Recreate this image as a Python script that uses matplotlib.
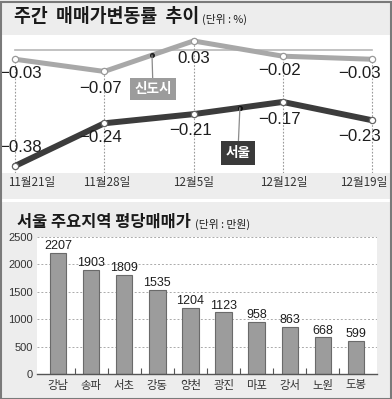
import numpy as np
import matplotlib
matplotlib.use("Agg")
import matplotlib.pyplot as plt
from matplotlib.patches import Rectangle
from matplotlib.ticker import FixedLocator

plt.rcParams['font.family'] = ['Noto Sans CJK KR', 'DejaVu Sans']

# ---------------- data ----------------
dates = ["11월21일", "11월28일", "12월5일", "12월12일", "12월19일"]
sindosi = [-0.03, -0.07, 0.03, -0.02, -0.03]
seoul = [-0.38, -0.24, -0.21, -0.17, -0.23]

regions = ["강남", "송파", "서초", "강동", "양천", "광진", "마포", "강서", "노원", "도봉"]
prices = [2207, 1903, 1809, 1535, 1204, 1123, 958, 863, 668, 599]
yticks = [0, 500, 1000, 1500, 2000, 2500]

W, H = 392, 399
fig = plt.figure(figsize=(W / 100, H / 100), dpi=100)
fig.patch.set_facecolor('#ededed')

def fbox(x0, y0, x1, y1):
    return [x0 / W, 1 - y1 / H, (x1 - x0) / W, (y1 - y0) / H]

NUMW = ['Liberation Sans', 'DejaVu Sans']

# ---------------- top chart ----------------
ax1 = fig.add_axes(fbox(1, 35, 391, 173))
ax1.set_facecolor('white')
for s in ax1.spines.values():
    s.set_visible(False)
ax1.set_xticks([])
ax1.set_yticks([])
x = np.arange(len(dates))
ax1.set_xlim(-0.157, 4.213)
ybot, ytop = -0.403, 0.0495
ax1.set_ylim(ybot, ytop)

ax1.plot([x[0], x[-1]], [0, 0], color='#b8b8b8', lw=1.2, zorder=1)
ax1.vlines(x, ybot, sindosi, colors='#9a9a9a', linestyles=(0, (1.5, 1.5)), lw=0.8, zorder=1)

ax1.plot(x, sindosi, color='#a8a8a8', lw=3.6, solid_capstyle='round', zorder=3,
         marker='o', mfc='white', mec='#999999', ms=4.5, mew=0.9)
ax1.plot(x, seoul, color='#3c3c3c', lw=4.3, solid_capstyle='round', zorder=3,
         marker='o', mfc='white', mec='#666666', ms=4.5, mew=0.9)

s_off = [(6, -14), (-4, -17), (0, -18), (-3, -14), (-12, -14)]
k_off = [(6, 18), (-4, -14), (-3, -16), (-3, -18), (-12, -16)]
for i in range(len(dates)):
    ax1.annotate(f"{sindosi[i]:.2f}".replace('-', '\u2212'), (x[i], sindosi[i]),
                 xytext=s_off[i], textcoords='offset pixels', ha='center', va='center',
                 fontsize=12.2, family=NUMW, color='#1e1e1e', zorder=5)
    ax1.annotate(f"{seoul[i]:.2f}".replace('-', '\u2212'), (x[i], seoul[i]),
                 xytext=k_off[i], textcoords='offset pixels', ha='center', va='center',
                 fontsize=12.2, family=NUMW, color='#1e1e1e', zorder=5)

# date labels
d_off = [(-7, 'left'), (2, 'center'), (0, 'center'), (1, 'center'), (15, 'right')]
for i, d in enumerate(dates):
    ax1.annotate(d, (x[i], ybot), xytext=(d_off[i][0], -10), textcoords='offset pixels',
                 ha=d_off[i][1], va='center', fontsize=8.4, color='#333333',
                 annotation_clip=False)

# series tags
xs = 1.535
ys = np.interp(xs, x, sindosi)
ax1.plot([xs], [ys], 'o', color='#222222', ms=2.6, zorder=4)
ax1.annotate("신도시", (xs, ys), xytext=(1, -34), textcoords='offset pixels',
             ha='center', va='center', fontsize=9.8, fontweight='bold', color='white',
             bbox=dict(boxstyle='square,pad=0.3', fc='#9c9c9c', ec='none'),
             arrowprops=dict(arrowstyle='-', color='#8a8a8a', lw=0.9, shrinkA=0, shrinkB=0),
             zorder=6)
xk = 2.52
yk = np.interp(xk, x, seoul)
ax1.plot([xk], [yk], 'o', color='#111111', ms=2.6, zorder=4)
ax1.annotate("서울", (xk, yk), xytext=(-2, -45), textcoords='offset pixels',
             ha='center', va='center', fontsize=9.8, fontweight='bold', color='white',
             bbox=dict(boxstyle='square,pad=0.35', fc='#3a3a3a', ec='none'),
             arrowprops=dict(arrowstyle='-', color='#8a8a8a', lw=0.9, shrinkA=0, shrinkB=0),
             zorder=6)

t1 = fig.text(14 / W, 1 - 17 / H, "주간  매매가변동률  추이", fontsize=13.2, fontweight='bold',
              color='#1a1a1a', ha='left', va='center')
fig.text(0, 0, "(단위 : %)", fontsize=7.8, color='#222222', ha='left', va='center')
fig.texts[-1].remove()
ax1.annotate("(단위 : %)", xy=(1, 0.5), xycoords=t1, xytext=(3, -2),
             textcoords='offset pixels', fontsize=7.8, color='#222222',
             ha='left', va='center', annotation_clip=False)

# separator between panels
fig.patches.append(Rectangle((0, 1 - 202 / H), 1, 3 / H, transform=fig.transFigure,
                             facecolor='white', edgecolor='none', zorder=0))

# ---------------- bottom chart ----------------
ax2 = fig.add_axes(fbox(37, 237, 377, 374))
ax2.set_facecolor('white')
xb = np.arange(len(regions))
bars = ax2.bar(xb, prices, width=0.5, color='#9c9c9c', edgecolor='#6a6a6a', lw=0.8, zorder=3)
ax2.set_xlim(-0.634, len(regions) - 1 + 0.634)
ax2.set_ylim(0, 2500)
ax2.set_yticks(yticks)
ax2.set_yticklabels([str(v) for v in yticks], family=NUMW, fontsize=8, color='#333333')
ax2.set_xticks(xb)
ax2.set_xticklabels(regions, fontsize=8.2, color='#333333')
ax2.tick_params(axis='both', which='major', length=0)
ax2.tick_params(axis='y', pad=3)
ax2.tick_params(axis='x', pad=4)
ax2.xaxis.set_minor_locator(FixedLocator(xb[:-1] + 0.5))
ax2.tick_params(axis='x', which='minor', direction='in', length=4.5, width=0.8, color='#555555')
for s in ['top', 'right', 'left']:
    ax2.spines[s].set_visible(False)
ax2.spines['bottom'].set_color('#555555')
ax2.spines['bottom'].set_linewidth(1.0)
ax2.spines['bottom'].set_zorder(5)
ax2.grid(axis='y', color='#aaaaaa', linestyle=(0, (2, 2)), lw=0.7, zorder=0)
ax2.bar_label(bars, labels=[str(v) for v in prices], padding=0.5, fontsize=9,
              family=NUMW, color='#1e1e1e')

t2 = fig.text(17 / W, 1 - 222 / H, "서울 주요지역 평당매매가", fontsize=11.8, fontweight='bold',
              color='#1a1a1a', ha='left', va='center')
ax2.annotate("(단위 : 만원)", xy=(1, 0.5), xycoords=t2, xytext=(4, -2),
             textcoords='offset pixels', fontsize=7.8, color='#222222',
             ha='left', va='center', annotation_clip=False)

# outer border
fig.patches.append(Rectangle((0.5 / W, 0.5 / H), (W - 2) / W, (H - 2) / H,
                             transform=fig.transFigure, facecolor='none',
                             edgecolor='#7a7a7a', lw=1.5, zorder=10))

fig.savefig("out.png", dpi=100, facecolor=fig.get_facecolor())
